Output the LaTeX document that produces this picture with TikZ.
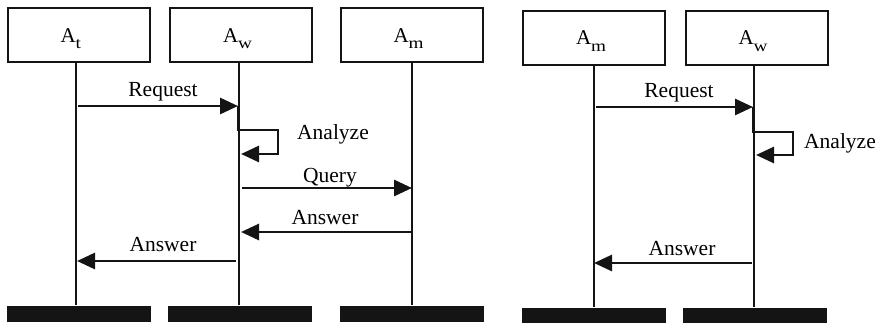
\documentclass[tikz,border=0pt]{standalone}
\usepackage{graphicx}
\usepackage{fontspec}
\setmainfont{Liberation Serif}
\usetikzlibrary{arrows.meta}
\newcommand{\subx}[1]{\smash{\raisebox{-6.3pt}{\scalebox{1.2}[1]{\fontsize{16}{16}\selectfont #1}}}}
\newcommand{\actorlabel}[1]{\makebox[36pt][l]{A\subx{#1}}}
\begin{document}
\begin{tikzpicture}[x=1pt,y=-1pt,
 actor/.style={draw=black!92, line width=2pt, minimum width=142pt, minimum height=54pt, inner sep=0, font=\fontsize{21}{24}\selectfont},
 endbar/.style={fill=black!92, minimum width=144pt, minimum height=16pt, inner sep=0},
 life/.style={draw=black!92, line width=2pt},
 msg/.style={draw=black!92, line width=2.8pt, -{Triangle[length=18pt,width=16pt]}},
 lbl/.style={font=\fontsize{21.5}{24}\selectfont, inner sep=0}]
\useasboundingbox (0,0) rectangle (880,323);
% ---------- left diagram ----------
\node[actor] (At) at (78.5,35.5) {\actorlabel{t}};
\node[actor] (Aw) at (241,35.5) {\actorlabel{w}};
\node[actor] (Am) at (411.5,35.5) {\actorlabel{m}};
\node[endbar] (Bt) at (79,313.5) {};
\node[endbar] (Bw) at (239.5,313.5) {};
\node[endbar] (Bm) at (412,313.5) {};
\draw[life] (At.south -| 76,0) -- (Bt.north -| 76,0);
\draw[life] (Aw.south -| 239,0) -- (Bw.north -| 239,0);
\draw[life] (Am.south -| 412,0) -- (Bm.north -| 412,0);
\coordinate (r1s) at (78,106);
\coordinate (r1e) at (238,106);
\draw[msg] (r1s) -- (r1e);
\node[lbl] (lReq) at (163,92) {Request};
\coordinate (an1) at (238,130);
\coordinate (an2) at (278,130);
\coordinate (an3) at (278,154);
\coordinate (an4) at (241,154);
\draw[msg] (r1e) -- (an1) -- (an2) -- (an3) -- (an4);
\node[lbl] (lAn) at (333,134) {Analyze};
\coordinate (q1s) at (242,188);
\coordinate (q1e) at (412,188);
\draw[msg] (q1s) -- (q1e);
\node[lbl] (lQ) at (330,178) {Query};
\coordinate (a1s) at (412,232);
\coordinate (a1e) at (241,232);
\draw[msg] (a1s) -- (a1e);
\node[lbl] (lA1) at (325,218) {Answer};
\coordinate (a2s) at (236,261);
\coordinate (a2e) at (77,261);
\draw[msg] (a2s) -- (a2e);
\node[lbl] (lA2) at (163,245) {Answer};
% ---------- right diagram ----------
\node[actor] (Rm) at (594,38) {\actorlabel{m}};
\node[actor] (Rw) at (756.5,38) {\actorlabel{w}};
\node[endbar] (RBm) at (594,315.5) {};
\node[endbar] (RBw) at (755,315.5) {};
\draw[life] (Rm.south -| 594,0) -- (RBm.north -| 594,0);
\draw[life] (Rw.south -| 754,0) -- (RBw.north -| 754,0);
\coordinate (r2s) at (596,107);
\coordinate (r2e) at (753,107);
\draw[msg] (r2s) -- (r2e);
\node[lbl] (lReq2) at (679,93) {Request};
\coordinate (bn1) at (753,132);
\coordinate (bn2) at (793,132);
\coordinate (bn3) at (793,155);
\coordinate (bn4) at (756,155);
\draw[msg] (r2e) -- (bn1) -- (bn2) -- (bn3) -- (bn4);
\node[lbl] (lAn2) at (840,143) {Analyze};
\coordinate (a3s) at (752,263);
\coordinate (a3e) at (594,263);
\draw[msg] (a3s) -- (a3e);
\node[lbl] (lA3) at (682,249) {Answer};
\end{tikzpicture}
\end{document}
